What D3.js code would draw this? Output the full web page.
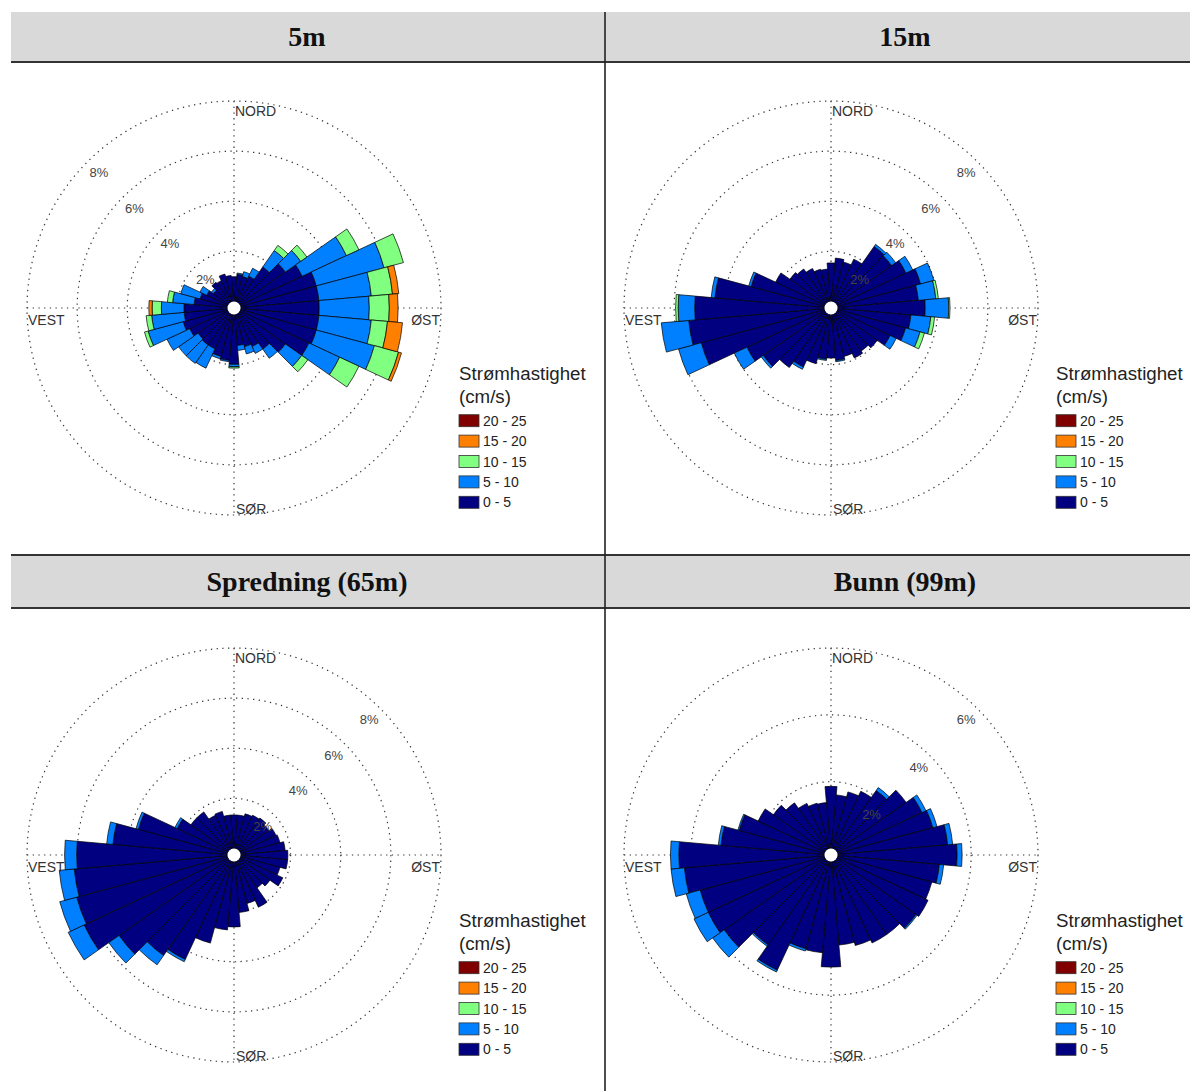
<!DOCTYPE html>
<html>
<head>
<meta charset="utf-8">
<script src="https://cdn.jsdelivr.net/npm/d3@7"></script>
<style>
  body { margin: 0; background: #fff; }
  svg { display: block; }
  .axisText { font-family: "Liberation Sans", Arial, sans-serif; }
</style>
</head>
<body>
<svg id="chart"></svg>
<script>
// directions of the sectors (degrees from north, clockwise)
var dirs = d3.range(0, 360, 10);

// speed classes (cm/s), colours like MATLAB jet
var classLabels = ["0 - 5", "5 - 10", "10 - 15", "15 - 20", "20 - 25"];
var classColors = ["#000080", "#0080ff", "#80ff80", "#ff8000", "#800000"];

var panelTitles = ["5m", "15m", "Spredning (65m)", "Bunn (99m)"];
var compassLabels = ["NORD", "ØST", "SØR", "VEST"];
var legendTitle = ["Strømhastighet", "(cm/s)"];

// ring ticks (%)
var ringTicks8 = [2, 4, 6, 8];
var ringTicks6 = [2, 4, 6];

// frequency (%) per sector and speed class
// 5m
var s5m_0 = [0.99,1.09,1.04,1.14,1.74,2.24,2.74,3.14,3.14,3.14,3.14,3.14,3.04,2.24,1.74,1.44,1.34,1.24,1.99,1.84,1.74,1.54,1.54,1.49,1.69,1.84,1.74,1.74,1.34,1.14,0.94,0.74,0.99,0.94,1.14,1.04];
var s5m_1 = [0,0.05,0.2,0.35,0.8,0.75,1.95,2.8,2.1,2.0,2.1,2.4,1.35,0.8,0.45,0.3,0.3,0.2,0.1,0.05,0.1,0.85,0.9,0.95,1.0,1.45,1.3,0.9,0.86,0.8,0.3,0.1,0,0,0,0];
var s5m_2 = [0,0,0,0,0.25,0.3,0.55,0.8,0.85,0.8,0.65,1.0,0.85,0.3,0,0,0,0,0.05,0,0,0,0,0,0,0.15,0.22,0.37,0.21,0,0,0,0,0,0,0];
var s5m_3 = [0,0,0,0,0,0,0,0,0.25,0.35,0.6,0.12,0,0,0,0,0,0,0,0,0,0,0,0,0,0,0,0.13,0,0,0,0,0,0,0,0];
// 15m
var s15m_0 = [1.54,1.74,1.64,1.89,2.74,2.69,3.04,3.44,3.24,3.5,2.94,2.82,2.34,1.99,1.84,1.94,1.74,1.84,1.74,1.79,2.04,2.34,2.64,3.04,3.44,5.1,5.44,5.18,4.39,3.04,2.18,1.74,1.64,1.48,1.34,1.3];
var s15m_1 = [0,0,0,0,0.1,0.2,0.3,0.55,0.7,0.94,0.8,0.6,0.27,0,0,0,0,0.05,0,0.05,0,0.1,0,0.1,0.56,0.94,1.1,0.66,0.15,0.1,0,0,0,0,0,0];
var s15m_2 = [0,0,0,0,0,0,0,0,0.1,0.05,0.15,0.18,0,0,0,0,0,0,0,0,0,0,0,0,0,0,0,0.1,0,0,0,0,0,0,0,0];
// Spredning (65m)
var s65m_0 = [1.34,1.34,1.44,1.49,1.54,1.44,1.59,1.64,1.79,1.89,1.89,1.64,1.89,1.49,1.34,2.04,1.74,2.04,2.61,2.74,3.38,4.34,4.64,5.34,6.34,6.24,6.14,6.02,4.59,3.69,2.24,1.84,1.84,1.49,1.54,1.34];
var s65m_1 = [0,0,0,0,0,0,0,0,0,0,0,0,0,0,0,0,0,0,0,0,0,0.1,0.45,0.5,0.7,0.7,0.6,0.48,0.25,0.1,0.1,0,0,0,0,0];
// Bunn (99m)
var s99m_0 = [1.86,1.61,1.76,1.91,2.16,2.55,2.81,2.96,3.31,3.58,3.06,2.93,3.01,2.91,2.71,2.71,2.61,2.51,3.16,2.74,2.71,3.61,3.09,3.71,3.86,3.86,4.21,4.36,3.11,2.65,2.21,1.91,1.71,1.51,1.41,1.38];
var s99m_1 = [0,0,0,0,0.11,0,0.13,0.13,0.15,0.15,0.13,0,0,0.04,0,0,0,0,0,0,0.07,0.06,0.05,0.42,0.47,0.43,0.4,0.25,0.08,0.04,0,0,0,0,0,0];

// svg container
var svgWidth = 1190;
var svgHeight = 1091;
var outerR = 207;   // radius of the outermost ring
var hole = 6.5;     // white hole in the middle, radial axis starts here

var svg = d3.select("#chart")
  .attr("width", svgWidth)
  .attr("height", svgHeight);

// table headers
var headers = [
  {y: 12, h: 50, titles: [panelTitles[0], panelTitles[1]]},
  {y: 555, h: 53, titles: [panelTitles[2], panelTitles[3]]}
];

headers.forEach(function(hd) {
  svg.append("rect")
    .attr("x", 11).attr("y", hd.y)
    .attr("width", svgWidth - 11).attr("height", hd.h)
    .attr("fill", "#d9d9d9");
  svg.append("line")
    .attr("x1", 11).attr("x2", svgWidth)
    .attr("y1", hd.y + hd.h).attr("y2", hd.y + hd.h)
    .attr("stroke", "#333").attr("stroke-width", 2);
  [307, 905].forEach(function(x, i) {
    svg.append("text")
      .attr("x", x).attr("y", hd.y + hd.h / 2 + 9)
      .attr("text-anchor", "middle")
      .style("font-family", "'Liberation Serif', 'Times New Roman', serif")
      .style("font-weight", "bold")
      .style("font-size", "28px")
      .attr("fill", "#111")
      .text(hd.titles[i]);
  });
});

// top line of the second header row
svg.append("line")
  .attr("x1", 11).attr("x2", svgWidth)
  .attr("y1", 555).attr("y2", 555)
  .attr("stroke", "#333").attr("stroke-width", 2);

// column divider
svg.append("line")
  .attr("x1", 605).attr("x2", 605)
  .attr("y1", 12).attr("y2", svgHeight)
  .attr("stroke", "#222").attr("stroke-width", 1.6);

var panels = [
  {cx: 234, cy: 308, series: [s5m_0, s5m_1, s5m_2, s5m_3], rings: ringTicks8, side: -1},
  {cx: 831, cy: 308, series: [s15m_0, s15m_1, s15m_2], rings: ringTicks8, side: 1},
  {cx: 234, cy: 855, series: [s65m_0, s65m_1], rings: ringTicks8, side: 1},
  {cx: 831, cy: 855, series: [s99m_0, s99m_1], rings: ringTicks6, side: 1}
];

var dots = "1.3,4.4";

panels.forEach(function(p) {
  var g = svg.append("g")
    .attr("transform", `translate(${p.cx}, ${p.cy})`);

  var maxPct = d3.max(p.rings);
  var rScale = d3.scaleLinear()
    .domain([0, maxPct])
    .range([hole, outerR]);

  // dotted rings and cross
  g.selectAll("circle.ring")
    .data(p.rings)
    .enter()
    .append("circle")
    .attr("class", "ring")
    .attr("r", d => rScale(d))
    .attr("fill", "none")
    .attr("stroke", "#333")
    .attr("stroke-width", 1.2)
    .attr("stroke-dasharray", dots);

  g.append("line")
    .attr("x1", 0).attr("y1", -outerR).attr("x2", 0).attr("y2", outerR)
    .attr("stroke", "#333").attr("stroke-width", 1.2)
    .attr("stroke-dasharray", dots);
  g.append("line")
    .attr("x1", -outerR).attr("y1", 0).attr("x2", outerR).attr("y2", 0)
    .attr("stroke", "#333").attr("stroke-width", 1.2)
    .attr("stroke-dasharray", dots);

  // stacked sectors
  var keys = p.series.map((s, k) => "c" + k);
  var rows = dirs.map(function(d, i) {
    var row = {dir: d};
    p.series.forEach(function(s, k) { row["c" + k] = s[i]; });
    return row;
  });
  var stacked = d3.stack().keys(keys)(rows);

  var arc = d3.arc()
    .innerRadius(d => rScale(d[0]))
    .outerRadius(d => rScale(d[1]))
    .startAngle(d => (d.data.dir - 5) * Math.PI / 180)
    .endAngle(d => (d.data.dir + 5) * Math.PI / 180);

  g.selectAll("g.layer")
    .data(stacked)
    .enter()
    .append("g")
    .attr("class", "layer")
    .attr("fill", (d, k) => classColors[k])
    .selectAll("path")
    .data(d => d.filter(s => s[1] > s[0]))
    .enter()
    .append("path")
    .attr("d", arc)
    .attr("stroke", "#000")
    .attr("stroke-width", 0.7)
    .attr("stroke-linejoin", "round");

  // white hole
  g.append("circle")
    .attr("r", hole)
    .attr("fill", "#fff");

  // percent labels on the diagonal
  var a = p.side * Math.PI / 4;
  g.selectAll("text.pct")
    .data(p.rings)
    .enter()
    .append("text")
    .attr("class", "pct axisText")
    .attr("x", d => Math.sin(a) * (rScale(d) - 16))
    .attr("y", d => -Math.cos(a) * (rScale(d) - 16) + 4.5)
    .attr("text-anchor", "middle")
    .style("font-size", "13px")
    .attr("fill", "#444")
    .text(d => d + "%");

  // compass labels
  var lab = [
    {x: 1, y: -outerR + 15, anchor: "start"},
    {x: outerR - 1, y: 17, anchor: "end"},
    {x: 2, y: outerR - 1, anchor: "start"},
    {x: -outerR + 1, y: 17, anchor: "start"}
  ];
  lab.forEach(function(l, i) {
    g.append("text")
      .attr("class", "axisText")
      .attr("x", l.x).attr("y", l.y)
      .attr("text-anchor", l.anchor)
      .style("font-size", "14px")
      .attr("fill", "#333")
      .text(compassLabels[i]);
  });

  // legend
  var lg = g.append("g")
    .attr("transform", `translate(225, 0)`);
  lg.append("text")
    .attr("class", "axisText")
    .attr("x", 0).attr("y", 72)
    .style("font-size", "18.7px")
    .attr("fill", "#222")
    .text(legendTitle[0]);
  lg.append("text")
    .attr("class", "axisText")
    .attr("x", 0).attr("y", 95)
    .style("font-size", "18.7px")
    .attr("fill", "#222")
    .text(legendTitle[1]);

  var order = d3.range(classLabels.length).reverse();
  var items = lg.selectAll("g.item")
    .data(order)
    .enter()
    .append("g")
    .attr("class", "item")
    .attr("transform", (d, i) => `translate(0, ${112.7 + i * 20.4})`);
  items.append("rect")
    .attr("x", 0).attr("y", -6)
    .attr("width", 20).attr("height", 12)
    .attr("fill", d => classColors[d])
    .attr("stroke", "#333")
    .attr("stroke-width", 0.8);
  items.append("text")
    .attr("class", "axisText")
    .attr("x", 24).attr("y", 5)
    .style("font-size", "14px")
    .attr("fill", "#222")
    .text(d => classLabels[d]);
});
</script>
</body>
</html>
